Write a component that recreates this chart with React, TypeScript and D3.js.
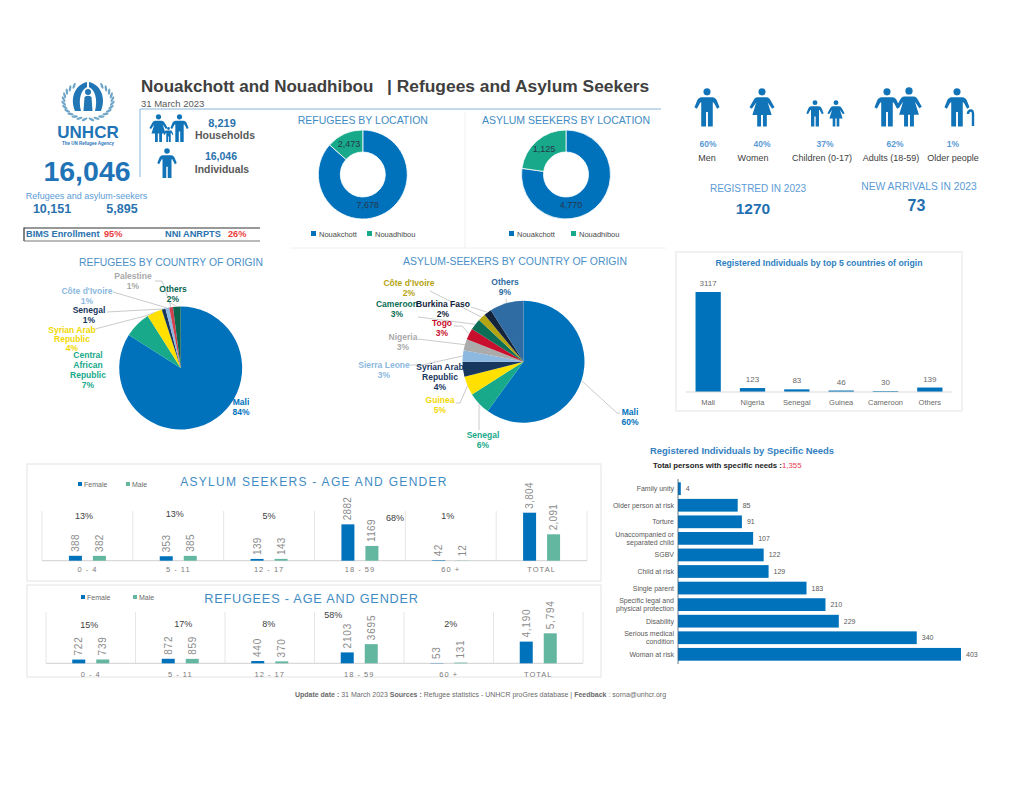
import React, { useEffect, useRef } from 'react';
import * as d3 from 'd3';

const locationNames = ['Nouakchott', 'Nouadhibou'];
// drawn shares differ from the printed counts in the source, so both are kept
const refugeeLocationShare = [86.6, 13.4];
const refugeeLocationLabels = ['7,678', '2,473'];
const asylumLocationShare = [77.2, 22.8];
const asylumLocationLabels = ['4,770', '1,125'];

const refugeeOriginPct = [84, 7, 4, 1, 1, 1, 2];
const asylumOriginPct = [60, 6, 5, 4, 3, 3, 3, 3, 2, 2, 9];

const topCountries = ['Mali', 'Nigeria', 'Senegal', 'Guinea', 'Cameroon', 'Others'];
const topCountryValues = [3117, 123, 83, 46, 30, 139];

const ageGroups = ['0 - 4', '5 - 11', '12 - 17', '18 - 59', '60 +', 'TOTAL'];
const genders = ['Female', 'Male'];
const asylumFemale = [388, 353, 139, 2882, 42, 3804];
const asylumMale = [382, 385, 143, 1169, 12, 2091];
const asylumAgePct = ['13%', '13%', '5%', '68%', '1%'];
const refugeeFemale = [722, 872, 440, 2103, 53, 4190];
const refugeeMale = [739, 859, 370, 3695, 131, 5794];
const refugeeAgePct = ['15%', '17%', '8%', '58%', '2%'];

const needsNames = ['Family unity', 'Older person at risk', 'Torture', 'Unaccompanied or|separated child', 'SGBV', 'Child at risk', 'Single parent', 'Specific legal and|physical protection', 'Disability', 'Serious medical|condition', 'Woman at risk'];
const needsValues = [4, 85, 91, 107, 122, 129, 183, 210, 229, 340, 403];

const profilePct = ['60%', '40%', '37%', '62%', '1%'];
const profileNames = ['Men', 'Women', 'Children (0-17)', 'Adults (18-59)', 'Older people'];

// ---- colours ----
const BLUE = '#0072BC';
const TEAL = '#18A98B';
const SOFT_GREEN = '#63B7A0';
const HEAD = '#3F8CC4';
const ICON = '#1274B8';
const refugeeSliceColors = [BLUE, TEAL, '#FFE000', '#18375F', '#8DB9E0', '#D2404F', '#0B6650'];
const refugeeLabelColors = [BLUE, TEAL, '#F2D800', '#18375F', '#8DB9E0', '#A9A9A9', '#0B6650'];
const asylumSliceColors = [BLUE, TEAL, '#FFE000', '#18375F', '#8DB9E0', '#ABABAB', '#C8102E', '#0B6E55', '#B5A412', '#14243D', '#2F6CA3'];

const MAN = 'M-5.5 9.5 H5.5 C8 9.5 9 11 10 12.5 L13 20 L10.5 21.5 L7 15 L6 15 L6 40 H1 V25 H-1 V40 H-6 V15 L-7 15 L-10.5 21.5 L-13 20 L-10 12.5 C-9 11 -8 9.5 -5.5 9.5 Z';
const WOMAN = 'M-4.5 9.5 H4.5 C7 9.5 8 11 9 13 L13 20 L10.5 21.5 L6 15 L10 28 H5 V40 H1 V28 H-1 V40 H-5 V28 H-10 L-6 15 L-10.5 21.5 L-13 20 L-9 13 C-8 11 -7 9.5 -4.5 9.5 Z';

type G = d3.Selection<any, unknown, null, undefined>;

const App: React.FC = () => {
    const svgRef = useRef<SVGSVGElement>(null);

    useEffect(() => {
        if (!svgRef.current) return;
        const svg: G = d3.select(svgRef.current) as any;
        svg.selectAll('*').remove();

        const label = (parent: G, s: string, x: number, y: number, size: number, fill: string, anchor = 'middle', weight = 'normal', spacing = 0) =>
            parent.append('text')
                .attr('x', x)
                .attr('y', y)
                .attr('text-anchor', anchor)
                .attr('font-size', size)
                .attr('font-weight', weight)
                .attr('letter-spacing', spacing)
                .attr('fill', fill)
                .text(s);

        const person = (cx: number, top: number, h: number, kind: 'm' | 'w') => {
            const g = svg.append('g').attr('transform', `translate(${cx},${top}) scale(${h / 40})`).attr('fill', ICON);
            g.append('circle').attr('cx', 0).attr('cy', 4).attr('r', 3.7);
            g.append('path').attr('d', kind === 'm' ? MAN : WOMAN);
        };

        const frame = (x: number, y: number, w: number, h: number) =>
            svg.append('rect').attr('x', x).attr('y', y).attr('width', w).attr('height', h)
                .attr('fill', 'none').attr('stroke', '#e8e8e8').attr('stroke-width', 1.2);

        // ---- logo ----
        const logo = svg.append('g');
        [-1, 1].forEach(side => {
            d3.range(0, 12).forEach(i => {
                const deg = 8 + i * 12.5;
                const a = deg * Math.PI / 180;
                const px = 88 + side * 24.5 * Math.sin(a);
                const py = 101 + 18.5 * Math.cos(a);
                logo.append('ellipse')
                    .attr('cx', px).attr('cy', py).attr('rx', 3.2).attr('ry', 1.2)
                    .attr('fill', '#6FA6C8')
                    .attr('transform', `rotate(${side * (deg - 35) * -1} ${px} ${py})`);
            });
        });
        logo.append('path').attr('fill', '#2176B5').attr('d', 'M75 111 C69 96 77 84 87 82 L87 87 C81 90 78 99 81 111 Z');
        logo.append('path').attr('fill', '#2176B5').attr('d', 'M101 111 C107 96 99 84 89 82 L89 87 C95 90 98 99 95 111 Z');
        logo.append('circle').attr('cx', 88).attr('cy', 92).attr('r', 3).attr('fill', '#2176B5');
        logo.append('path').attr('fill', '#2176B5').attr('d', 'M84.5 97 Q88 94.5 91.5 97 L92.5 111 H83.5 Z');
        label(svg, 'UNHCR', 88, 138, 17, '#1F74B7', 'middle', 'bold');
        label(svg, 'The UN Refugee Agency', 88, 145, 4.5, '#1F74B7', 'middle', 'bold');

        // ---- header ----
        label(svg, 'Nouakchott and Nouadhibou', 141, 92, 17, '#404040', 'start', 'bold');
        label(svg, '| Refugees and Asylum Seekers', 387, 92, 17.4, '#404040', 'start', 'bold');
        label(svg, '31  March 2023', 141, 107, 9.5, '#595959', 'start');
        svg.append('path').attr('d', 'M140 177 V109 H661').attr('fill', 'none').attr('stroke', '#86B6DA').attr('stroke-width', 1);

        // ---- key figures, left ----
        label(svg, '16,046', 87, 181, 28.5, '#1F74B7', 'middle', 'bold');
        label(svg, 'Refugees  and  asylum-seekers', 86.5, 199, 9, '#5B9BD5');
        label(svg, '10,151', 52, 213, 12.5, '#2A72AE', 'middle', 'bold');
        label(svg, '5,895', 122, 213, 12.5, '#2A72AE', 'middle', 'bold');

        svg.append('path').attr('d', 'M260 228 H24 V241').attr('fill', 'none').attr('stroke', '#333').attr('stroke-width', 1.2);
        svg.append('path').attr('d', 'M24 241 H260').attr('fill', 'none').attr('stroke', '#777').attr('stroke-width', 1.2);
        label(svg, 'BIMS Enrollment', 26, 237, 9.2, '#2A72AE', 'start', 'bold');
        label(svg, '95%', 104, 237, 9.2, '#EE3B3B', 'start', 'bold');
        label(svg, 'NNI ANRPTS', 165, 237, 9.2, '#2A72AE', 'start', 'bold');
        label(svg, '26%', 228, 237, 9.2, '#EE3B3B', 'start', 'bold');

        person(158.5, 114, 28, 'w');
        person(179.5, 114, 28, 'm');
        person(168.5, 127, 15, 'm');
        person(167, 148, 30, 'm');
        label(svg, '8,219', 222, 127, 11, '#2A72AE', 'middle', 'bold');
        label(svg, 'Households', 225, 139, 10.5, '#595959', 'middle', 'bold');
        label(svg, '16,046', 221, 160, 10.5, '#2A72AE', 'middle', 'bold');
        label(svg, 'Individuals', 222, 173, 10.4, '#595959', 'middle', 'bold');

        // ---- donuts by location ----
        svg.append('path').attr('d', 'M465 112 V248 M290 248 H666').attr('stroke', '#f0f0f0').attr('fill', 'none');
        const pie = d3.pie<number>().sort(null);
        const donut = (cx: number, cy: number, values: number[], texts: string[], title: string, legendX: number[]) => {
            const arc = d3.arc<d3.PieArcDatum<number>>().innerRadius(22.5).outerRadius(44.5);
            const g = svg.append('g').attr('transform', `translate(${cx},${cy})`);
            const arcs = pie(values);
            g.selectAll('path').data(arcs).join('path')
                .attr('d', arc as any)
                .attr('fill', (_, i) => (i === 0 ? BLUE : TEAL))
                .attr('stroke', '#fff')
                .attr('stroke-width', 0.8);
            arcs.forEach((a, i) => {
                const [tx, ty] = arc.centroid(a);
                label(g, texts[i], i === 0 ? 5 : tx, i === 0 ? 33 : ty + 3, 9, '#24384a');
            });
            label(svg, title, cx, 124, 10.5, HEAD);
            locationNames.forEach((n, i) => {
                svg.append('rect').attr('x', legendX[i]).attr('y', 231).attr('width', 5).attr('height', 5).attr('fill', i === 0 ? BLUE : TEAL);
                label(svg, n, legendX[i] + 8, 236.5, 7.5, '#4a4a4a', 'start');
            });
        };
        donut(362.8, 174.5, refugeeLocationShare, refugeeLocationLabels, 'REFUGEES BY LOCATION', [311, 367]);
        donut(566, 174.5, asylumLocationShare, asylumLocationLabels, 'ASYLUM SEEKERS BY LOCATION', [509, 571]);

        // ---- profile icons, right ----
        person(707, 88, 38.5, 'm');
        person(762, 88, 38.5, 'w');
        person(815, 100, 26.5, 'm');
        person(836, 100, 26.5, 'w');
        person(887, 88, 38.5, 'm');
        person(909, 87, 39.5, 'w');
        person(957, 88, 38.5, 'm');
        svg.append('path').attr('d', 'M968 114 Q968 110.5 971 110.5 Q973 110.5 973 114 V126').attr('fill', 'none').attr('stroke', ICON).attr('stroke-width', 2.4);
        const pctX = [708, 762, 825, 895, 953];
        const nameX = [707, 753, 822, 891, 953];
        profilePct.forEach((p, i) => label(svg, p, pctX[i], 147, 8.5, '#5B9BD5', 'middle', 'bold'));
        profileNames.forEach((n, i) => label(svg, n, nameX[i], 161, 9, '#404040'));
        label(svg, 'REGISTRED IN 2023', 758, 192, 10, '#5B9BD5');
        label(svg, 'NEW ARRIVALS IN 2023', 919, 190, 10.3, '#5B9BD5');
        label(svg, '1270', 753, 214, 15.5, '#1F6FB0', 'middle', 'bold');
        label(svg, '73', 916.5, 211, 16, '#1F6FB0', 'middle', 'bold');

        // ---- origin pies ----
        label(svg, 'REFUGEES BY COUNTRY OF ORIGIN', 171, 266, 10.35, '#4A90C7');
        label(svg, 'ASYLUM-SEEKERS BY COUNTRY OF ORIGIN', 515, 265, 10.45, '#4A90C7');

        type Callout = { lines: string[]; x: number; y: number; step?: number; end?: [number, number]; elbow?: [number, number] };
        const originPie = (cx: number, cy: number, r: number, values: number[], sliceColors: string[], textColors: string[], callouts: Callout[]) => {
            const arcs = pie(values);
            const arc = d3.arc<d3.PieArcDatum<number>>().innerRadius(0).outerRadius(r);
            const outer = d3.arc<d3.PieArcDatum<number>>().innerRadius(r).outerRadius(r);
            const g = svg.append('g').attr('transform', `translate(${cx},${cy})`);
            g.selectAll('path').data(arcs).join('path')
                .attr('d', arc as any)
                .attr('fill', (_, i) => sliceColors[i]);
            arcs.forEach((a, i) => {
                const c = callouts[i];
                if (c.end) {
                    const [ox, oy] = outer.centroid(a);
                    const pts: [number, number][] = [[cx + ox, cy + oy]];
                    if (c.elbow) pts.push(c.elbow);
                    pts.push(c.end);
                    svg.append('path')
                        .attr('d', d3.line()(pts))
                        .attr('fill', 'none')
                        .attr('stroke', '#bdbdbd')
                        .attr('stroke-width', 0.8);
                }
            });
            arcs.forEach((a, i) => {
                const c = callouts[i];
                const rows = [...c.lines, `${values[i]}%`];
                rows.forEach((t, k) => label(svg, t, c.x, c.y + k * (c.step ?? 10), 8.5, textColors[i], 'middle', 'bold'));
            });
        };

        originPie(180.7, 368, 61.5, refugeeOriginPct, refugeeSliceColors, refugeeLabelColors, [
            { lines: ['Mali'], x: 241, y: 405 },
            { lines: ['Central', 'African', 'Republic'], x: 88, y: 358 },
            { lines: ['Syrian Arab', 'Republic'], x: 72, y: 332.5, step: 9, end: [95, 329], elbow: [145, 316] },
            { lines: ['Senegal'], x: 89, y: 312.5, end: [107, 312] },
            { lines: ["Côte d'Ivoire"], x: 87, y: 294, end: [113, 292] },
            { lines: ['Palestine'], x: 133, y: 279, end: [155, 281], elbow: [162, 281] },
            { lines: ['Others'], x: 173, y: 292, end: [169, 302] },
        ]);

        originPie(523.5, 361.7, 61, asylumOriginPct, asylumSliceColors,
            [BLUE, TEAL, '#F2D800', '#18375F', '#8DB9E0', '#ABABAB', '#C8102E', '#0B6E55', '#B5A412', '#14243D', '#2F6CA3'], [
            { lines: ['Mali'], x: 630, y: 415, end: [620, 413], elbow: [617, 413] },
            { lines: ['Senegal'], x: 483, y: 438, end: [479, 430] },
            { lines: ['Guinea'], x: 440, y: 403, end: [456, 403], elbow: [460, 403] },
            { lines: ['Syrian Arab', 'Republic'], x: 440, y: 370 },
            { lines: ['Sierra Leone'], x: 384, y: 368, end: [410, 365], elbow: [422, 365] },
            { lines: ['Nigeria'], x: 403, y: 340, end: [418, 339] },
            { lines: ['Togo'], x: 442, y: 326, end: [454, 326], elbow: [462, 326] },
            { lines: ['Cameroon'], x: 397, y: 307, end: [418, 317] },
            { lines: ["Côte d'Ivoire"], x: 409, y: 286, end: [430, 291] },
            { lines: ['Burkina Faso'], x: 443, y: 307, end: [471, 307] },
            { lines: ['Others'], x: 505, y: 285, end: [506, 299] },
        ]);

        // ---- top 5 countries ----
        frame(676, 252, 286, 159);
        label(svg, 'Registered Individuals by top 5 countries of origin', 819, 266, 8.7, '#2E80C0', 'middle', 'bold');
        const topX = d3.scaleBand().domain(topCountries).range([686, 952]).paddingInner(0.43).paddingOuter(0.215);
        const topY = d3.scaleLinear().domain([0, 3117]).range([392, 292]);
        svg.append('g').selectAll('rect').data(topCountryValues).join('rect')
            .attr('x', (_, i) => topX(topCountries[i])!)
            .attr('y', d => topY(d))
            .attr('width', topX.bandwidth())
            .attr('height', d => topY(0) - topY(d))
            .attr('fill', BLUE);
        svg.append('line').attr('x1', 686).attr('x2', 952).attr('y1', 392).attr('y2', 392).attr('stroke', '#d9d9d9');
        topCountries.forEach((c, i) => {
            const mx = topX(c)! + topX.bandwidth() / 2;
            label(svg, String(topCountryValues[i]), mx, topY(topCountryValues[i]) - 6, 8, '#6a6a6a');
            label(svg, c, mx, 405, 7.5, '#6a6a6a');
        });

        // ---- age and gender panels ----
        const agePanel = (opts: {
            box: [number, number, number, number]; title: string; titleX: number; titleY: number; titleSize: number; titleSpacing: number;
            female: number[]; male: number[]; pct: string[]; pctY: number[]; pctDx: number[];
            xRange: [number, number]; base: number; top: number; sepTop: number; catY: number;
            legend: [number, number, number]; labelSpacing: number;
        }) => {
            const { box, female, male } = opts;
            frame(box[0], box[1], box[2], box[3]);
            label(svg, opts.title, opts.titleX, opts.titleY, opts.titleSize, HEAD, 'middle', 'normal', opts.titleSpacing);
            const maxV = d3.max([...female, ...male])!;
            const y = d3.scaleLinear().domain([0, maxV]).range([opts.base, opts.top]);
            const x = d3.scaleBand().domain(ageGroups).range(opts.xRange);
            const bw = x.bandwidth();
            const sub = d3.scalePoint().domain(genders).range([bw / 2 - 12, bw / 2 + 12]);

            genders.forEach((g, i) => {
                const lx = opts.legend[i];
                svg.append('rect').attr('x', lx).attr('y', opts.legend[2] - 2).attr('width', 4).attr('height', 4).attr('fill', i === 0 ? BLUE : SOFT_GREEN);
                label(svg, g, lx + 6, opts.legend[2] + 2.5, 7, '#6a6a6a', 'start');
            });

            d3.range(0, ageGroups.length + 1).forEach(i => {
                const sx = opts.xRange[0] + i * bw;
                svg.append('line').attr('x1', sx).attr('x2', sx).attr('y1', opts.sepTop).attr('y2', opts.base).attr('stroke', '#e6e6e6');
            });
            svg.append('line').attr('x1', opts.xRange[0]).attr('x2', opts.xRange[1]).attr('y1', opts.base).attr('y2', opts.base).attr('stroke', '#d0d0d0');

            ageGroups.forEach((a, i) => {
                const x0 = x(a)!;
                [female[i], male[i]].forEach((v, k) => {
                    const mx = x0 + sub(genders[k])!;
                    svg.append('rect')
                        .attr('x', mx - 6.5).attr('y', y(v))
                        .attr('width', 13).attr('height', opts.base - y(v))
                        .attr('fill', k === 0 ? BLUE : SOFT_GREEN);
                    const t = a === 'TOTAL' ? d3.format(',')(v) : String(v);
                    label(svg, t, 0, 0, 10, '#8c8c8c', 'start', 'normal', opts.labelSpacing)
                        .attr('transform', `translate(${mx + 3.5},${y(v) - 4}) rotate(-90)`);
                });
                label(svg, a, x0 + bw / 2, opts.catY, 7.5, '#7a7a7a', 'middle', 'normal', 1);
                if (i < opts.pct.length) {
                    label(svg, opts.pct[i], x0 + bw / 2 + opts.pctDx[i], opts.pctY[i], 9, '#404040');
                }
            });
        };

        agePanel({
            box: [27, 464, 574, 117], title: 'ASYLUM SEEKERS - AGE AND GENDER', titleX: 314, titleY: 486, titleSize: 12, titleSpacing: 1.3,
            female: asylumFemale, male: asylumMale, pct: asylumAgePct,
            pctY: [519, 517, 519, 521, 519], pctDx: [-3.5, -3.5, 0, 35, -3],
            xRange: [42, 587], base: 560.7, top: 512.7, sepTop: 511, catY: 572,
            legend: [78, 126, 484], labelSpacing: 0.3,
        });
        agePanel({
            box: [27, 585, 574, 92], title: 'REFUGEES - AGE AND GENDER', titleX: 311.5, titleY: 603, titleSize: 12.7, titleSpacing: 0.8,
            female: refugeeFemale, male: refugeeMale, pct: refugeeAgePct,
            pctY: [628, 627, 627, 618, 627], pctDx: [-1.5, 3, -1, -26, 2],
            xRange: [46, 583], base: 663.3, top: 633.3, sepTop: 612, catY: 677,
            legend: [81, 133, 597], labelSpacing: 0.8,
        });

        // ---- specific needs ----
        label(svg, 'Registered Individuals by Specific Needs', 650, 454, 9.45, '#3480BF', 'start', 'bold');
        const total = label(svg, 'Total persons with specific needs :', 653, 468, 7.8, '#222', 'start', 'bold');
        total.append('tspan').attr('fill', '#E8384F').attr('font-weight', 'normal').text('1,355');

        const needsX = d3.scaleLinear().domain([0, 403]).range([678, 961]);
        const needsY = d3.scaleBand().domain(needsNames).range([478.5, 664.5]).padding(0.23);
        needsNames.forEach((n, i) => {
            const by = needsY(n)!;
            svg.append('rect')
                .attr('x', needsX(0)).attr('y', by)
                .attr('width', needsX(needsValues[i]) - needsX(0))
                .attr('height', needsY.bandwidth())
                .attr('fill', BLUE);
            label(svg, String(needsValues[i]), needsX(needsValues[i]) + 5, by + needsY.bandwidth() / 2 + 2.5, 7, '#595959', 'start');
            const rows = n.split('|');
            rows.forEach((r, k) => {
                const ty = by + needsY.bandwidth() / 2 + 2.5 + (k - (rows.length - 1) / 2) * 8.2;
                label(svg, r, 674, ty, 7, '#595959', 'end');
            });
        });
        svg.append('line').attr('x1', 678).attr('x2', 678).attr('y1', 479).attr('y2', 664).attr('stroke', '#3d5a73').attr('stroke-width', 0.8);

        // ---- footer ----
        const foot = label(svg, '', 480.5, 697, 7, '#6a6a6a');
        const runs: [string, boolean][] = [
            ['Update date :', true], ['  31  March 2023 ', false], ['Sources :', true],
            [' Refugee statistics - UNHCR proGres database | ', false], ['Feedback', true], [' : sorna@unhcr.org', false],
        ];
        runs.forEach(([t, b]) => foot.append('tspan').attr('font-weight', b ? 'bold' : 'normal').text(t));
    }, []);

    return (
        <svg
            ref={svgRef}
            width={1024}
            height={791}
            style={{ position: 'absolute', left: 0, top: 0, background: '#fff', fontFamily: '"Liberation Sans", Arial, sans-serif' }}
        />
    );
};

export default App;
